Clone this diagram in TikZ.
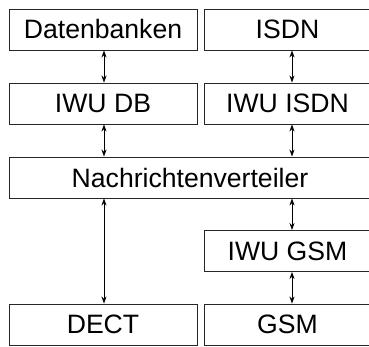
\documentclass[tikz,border=0pt]{standalone}
\usepackage{fontspec}
\setmainfont{Liberation Sans}
\usetikzlibrary{arrows.meta}
\tikzset{
  unit/.style={draw=black!85,line width=0.9pt,inner sep=0pt,minimum height=41pt,
    font=\fontsize{26.6}{30}\selectfont},
  link/.style={{Stealth[length=7pt,width=5pt]}-{Stealth[length=7pt,width=5pt]},line width=0.8pt},
}
\begin{document}
\begin{tikzpicture}[x=1pt,y=1pt]
  \useasboundingbox (0,0) rectangle (369,347);
  % left column
  \node[unit,minimum width=188pt] (db) at (103,317.5) {Datenbanken};
  \node[unit,minimum width=188pt] (iwudb) at (103,243.5) {IWU DB};
  \node[unit,minimum width=188pt] (dect) at (103,22.5) {DECT};
  % right column
  \node[unit,minimum width=167pt] (isdn) at (287.5,317.5) {ISDN};
  \node[unit,minimum width=167pt] (iwuisdn) at (287.5,243.5) {IWU ISDN};
  \node[unit,minimum width=167pt] (iwugsm) at (287.5,96) {IWU GSM};
  \node[unit,minimum width=167pt] (gsm) at (287.5,22.5) {GSM};
  % message distributor spanning both columns
  \node[unit,minimum width=362pt] (nv) at (190,169.5) {Nachrichtenverteiler};

  \draw[link] ([xshift=1pt]db.south) -- ([xshift=1pt]iwudb.north);
  \draw[link] ([xshift=4.5pt]isdn.south) -- ([xshift=4.5pt]iwuisdn.north);
  \draw[link] ([xshift=1pt]iwudb.south) -- ([xshift=1pt]iwudb.south |- nv.north);
  \draw[link] ([xshift=4.5pt]iwuisdn.south) -- ([xshift=4.5pt]iwuisdn.south |- nv.north);
  \draw[link] ([xshift=1pt]dect.north |- nv.south) -- ([xshift=1pt]dect.north);
  \draw[link] ([xshift=4.5pt]iwugsm.north |- nv.south) -- ([xshift=4.5pt]iwugsm.north);
  \draw[link] ([xshift=4.5pt]iwugsm.south) -- ([xshift=4.5pt]gsm.north);
\end{tikzpicture}
\end{document}
